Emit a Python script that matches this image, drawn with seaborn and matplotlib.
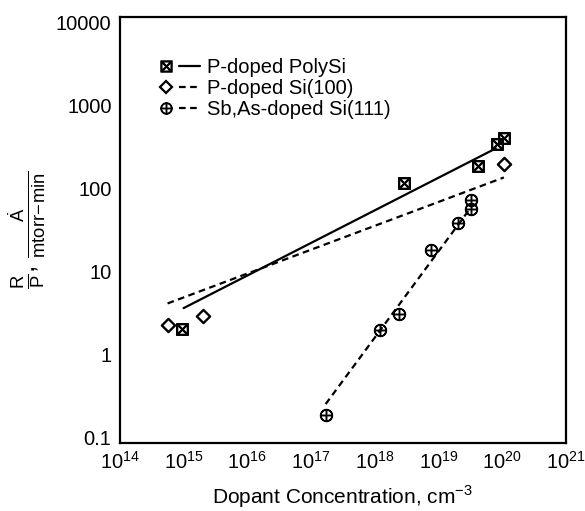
import numpy as np
import matplotlib
matplotlib.use("Agg")
import matplotlib.pyplot as plt
import seaborn as sns
from matplotlib.lines import Line2D
from matplotlib.legend_handler import HandlerTuple

# measured points
poly_x = [9.6e14, 2.9e18, 4.2e19, 8.3e19, 1.07e20]
poly_y = [2.0, 115, 189, 348, 412]
si100_x = [5.6e14, 2.0e15, 1.07e20]
si100_y = [2.24, 2.87, 195]
sb_x = [1.7e17, 1.23e18, 2.45e18, 7.8e18, 2.0e19, 3.3e19, 3.3e19]
sb_y = [0.184, 1.95, 3.1, 17.9, 37.9, 55.9, 73.6]

# fitted lines (endpoints)
poly_fit_x = [1.0e15, 8.0e19]
poly_fit_y = [3.6, 305]
si100_fit_x = [5.6e14, 1.07e20]
si100_fit_y = [4.1, 136]
sb_fit_x = [1.7e17, 3.4e19]
sb_fit_y = [0.25, 62]

labels = ["P-doped PolySi", "P-doped Si(100)", "Sb,As-doped Si(111)"]
ytick_vals = [0.1, 1, 10, 100, 1000, 10000]
ytick_labels = ["0.1", "1", "10", "100", "1000", "10000"]

sns.set_style("white")
plt.rcParams['font.family'] = ['Liberation Sans', 'DejaVu Sans']
plt.rcParams['mathtext.fontset'] = 'custom'
plt.rcParams['mathtext.rm'] = 'Liberation Sans'
for key in ['text.color', 'axes.labelcolor', 'xtick.color', 'ytick.color']:
    plt.rcParams[key] = 'black'

fig = plt.figure(figsize=(5.85, 5.11), dpi=100)
ax = fig.add_axes([0.205, 0.133, 0.762, 0.834])

dash = (3, 2)
sns.lineplot(x=poly_fit_x, y=poly_fit_y, ax=ax, color='black', lw=1.6)
sns.lineplot(x=si100_fit_x, y=si100_fit_y, ax=ax, color='black', lw=1.6,
             linestyle=(0, dash))
sns.lineplot(x=sb_fit_x, y=sb_fit_y, ax=ax, color='black', lw=1.6,
             linestyle=(0, dash))

m_box = r'$\boxtimes$'
m_plus = r'$\oplus$'
sns.scatterplot(x=poly_x, y=poly_y, ax=ax, marker=m_box, s=70,
                color='black', edgecolor='black', linewidth=1.0, zorder=3)
sns.scatterplot(x=si100_x, y=si100_y, ax=ax, marker='D', s=45,
                facecolor='white', edgecolor='black', linewidth=1.7, zorder=3)
sns.scatterplot(x=sb_x, y=sb_y, ax=ax, marker=m_plus, s=75,
                color='black', edgecolor='black', linewidth=1.0, zorder=3)

ax.set_xscale('log')
ax.set_yscale('log')
ax.set_xlim(1e14, 1e21)
ax.set_ylim(0.0847, 11800)
ax.set_xticks([10.0 ** k for k in range(14, 22)])
ax.minorticks_off()
ax.set_yticks(ytick_vals)
ax.set_yticklabels(ytick_labels)
ax.tick_params(direction='in', length=8, width=1.6, pad=6,
               top=False, right=False)
ax.tick_params(axis='y', labelsize=14.5)
ax.tick_params(axis='x', labelsize=14.5, pad=6)
for sp in ax.spines.values():
    sp.set_linewidth(1.6)
    sp.set_color('black')

ax.set_xlabel(r'Dopant Concentration, cm$^{-3}$', fontsize=15, labelpad=7)
ax.set_ylabel(r'$\frac{\mathrm{R}}{\mathrm{P}}$, $\frac{\dot{\mathrm{A}}}{\mathrm{mtorr\!-\!min}}$',
              fontsize=19, labelpad=6)

h1 = (Line2D([], [], ls='none', marker=m_box, ms=8, color='black', mew=1.0),
      Line2D([], [], color='black', lw=1.6))
h2 = (Line2D([], [], ls='none', marker='D', ms=6, mfc='white', mec='black', mew=1.6),
      Line2D([], [], color='black', lw=1.6, ls=(0, dash)))
h3 = (Line2D([], [], ls='none', marker=m_plus, ms=8, color='black', mew=1.0),
      Line2D([], [], color='black', lw=1.6, ls=(0, dash)))
ax.legend([h1, h2, h3], labels, handler_map={tuple: HandlerTuple(ndivide=None, pad=0.1)},
          loc='upper left', bbox_to_anchor=(0.04, 0.945), frameon=False,
          fontsize=14.5, handlelength=2.2, handletextpad=0.35, labelspacing=0.1)

fig.savefig('out.png', dpi=100)
